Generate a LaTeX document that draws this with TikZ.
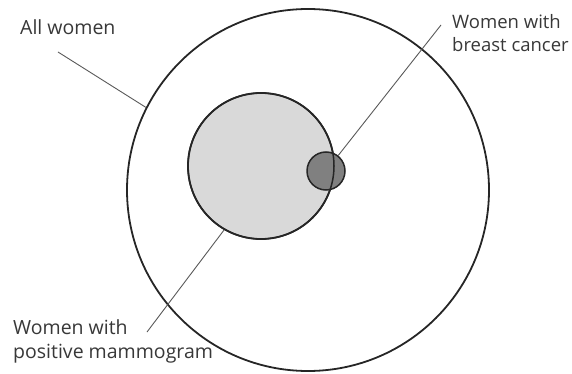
\documentclass[tikz,border=0pt]{standalone}
\usepackage{fontspec}
\setmainfont{Open Sans}
\begin{document}
\begin{tikzpicture}[x=1pt,y=-1pt,
  ring/.style={circle,draw=black!85,line width=1.8pt,inner sep=0pt},
  leader/.style={draw=black!65,line width=0.9pt},
  lbl/.style={inner sep=0pt,anchor=base west,text=black!78,font=\fontsize{19.5}{23.5}\selectfont,align=left}]
\useasboundingbox (0,0) rectangle (572,374);
\node[ring,minimum size=362pt] (big) at (308,190) {};
\node[ring,fill=black!15,minimum size=146pt] (med) at (261,166) {};
\node[ring,fill=black!50,minimum size=38pt,line width=1.5pt] (small) at (326,171) {};
\draw[black!85,line width=1.5pt] (med.center) circle (73pt);
\node[lbl] (allw) at (20,35) {All women};
\node[lbl,font=\fontsize{18.5}{23}\selectfont] (bc) at (452,52) {Women with\\breast cancer};
\node[lbl] (pm) at (13,358) {Women with\\positive mammogram};
\coordinate (allwEnd) at (58,52);
\coordinate (bcEnd) at (441,25);
\coordinate (pmEnd) at (147,332);
\draw[leader] (allwEnd) -- (big.153);
\draw[leader] (bcEnd) -- (small);
\draw[leader] (pmEnd) -- (med.240);
\end{tikzpicture}
\end{document}
